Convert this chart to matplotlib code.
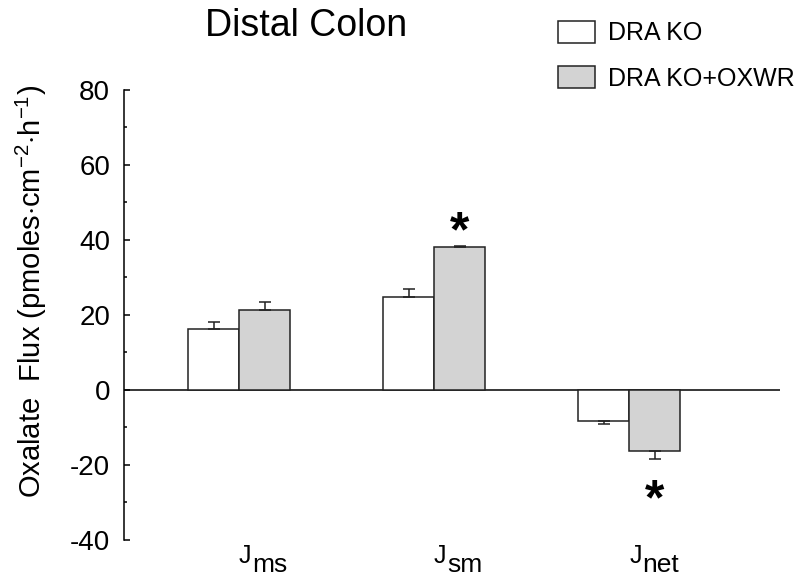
import matplotlib.pyplot as plt
import matplotlib.transforms as mtransforms
import numpy as np

plt.rcParams['font.family'] = ['Liberation Sans', 'DejaVu Sans']
plt.rcParams['mathtext.fontset'] = 'custom'
plt.rcParams['mathtext.rm'] = 'Liberation Sans'
plt.rcParams['mathtext.it'] = 'Liberation Sans:italic'
plt.rcParams['axes.unicode_minus'] = False

# data
groups = ['ms', 'sm', 'net']
series_names = ['DRA KO', 'DRA KO+OXWR']
dra_ko = [16.3, 24.9, -8.4]
dra_ko_err = [1.7, 2.0, 0.8]
oxwr = [21.3, 38.0, -16.3]
oxwr_err = [2.2, 0.4, 2.0]
star_y = [41.8, -29.7]   # significance marks over the OXWR bars (Jsm, Jnet)
star_groups = [1, 2]

fig = plt.figure(figsize=(8, 5.8), dpi=100)
ax = fig.add_axes([0.155, 0.069, 0.82, 0.7759])

x = np.arange(len(groups))
w = 0.2615

def one_sided(vals, errs):
    # error bars point away from zero only
    lo = [0 if v >= 0 else e for v, e in zip(vals, errs)]
    hi = [e if v >= 0 else 0 for v, e in zip(vals, errs)]
    return [lo, hi]

ax.bar(x - w / 2, dra_ko, w, color='white', edgecolor='#222222', linewidth=1.1,
       label=series_names[0], zorder=2)
ax.bar(x + w / 2, oxwr, w, color='#d3d3d3', edgecolor='#222222', linewidth=1.1,
       label=series_names[1], zorder=2)
ax.errorbar(x - w / 2, dra_ko, yerr=one_sided(dra_ko, dra_ko_err), fmt='none',
            ecolor='#222222', elinewidth=1.1, capsize=4.5, capthick=1.1, zorder=3)
ax.errorbar(x + w / 2, oxwr, yerr=one_sided(oxwr, oxwr_err), fmt='none',
            ecolor='#222222', elinewidth=1.1, capsize=4.5, capthick=1.1, zorder=3)

ax.axhline(0, color='black', linewidth=1.1, zorder=1)

for g, sy in zip(star_groups, star_y):
    ax.text(x[g] + w / 2, sy, '*', fontsize=36, fontweight='bold',
            ha='center', va='center')

ax.set_xlim(-0.590, 2.774)
ax.set_ylim(-40, 80)
ax.set_yticks(np.arange(-40, 81, 20))
ax.set_yticks(np.arange(-40, 81, 10), minor=True)
ax.set_xticks([])
for s in ['top', 'right', 'bottom']:
    ax.spines[s].set_visible(False)
ax.spines['left'].set_linewidth(1.1)
ax.tick_params(axis='y', which='major', direction='in', length=4.5, width=1.1,
               labelsize=20, pad=10)
ax.tick_params(axis='y', which='minor', direction='in', length=2.5, width=1.1)

# J labels with big subscripts
trans = mtransforms.blended_transform_factory(ax.transData, ax.transAxes)
for xc, sub in zip(x, groups):
    ax.annotate('J', xy=(xc, -0.051), xycoords=trans, ha='left', va='baseline',
                fontsize=18, annotation_clip=False)
    ax.annotate(sub, xy=(xc, -0.051), xycoords=trans, xytext=(9.5, -6.5),
                textcoords='offset points', ha='left', va='baseline',
                fontsize=19, annotation_clip=False)

ax.set_ylabel(r'Oxalate  Flux (pmoles$\cdot$cm$^{-2}$$\cdot$h$^{-1}$)', fontsize=21)
ax.yaxis.set_label_coords(-0.114, 0.553)

fig.text(0.3825, 1 - 36 / 580, 'Distal Colon', fontsize=27, ha='center', va='baseline')

ax.legend(loc='upper left', bbox_to_anchor=(558 / 800, 1 - 21 / 580),
          bbox_transform=fig.transFigure, frameon=False, fontsize=18,
          borderpad=0, borderaxespad=0, handlelength=1.48, handleheight=0.96,
          handletextpad=0.52, labelspacing=0.84)

fig.savefig('out.png', dpi=100)
